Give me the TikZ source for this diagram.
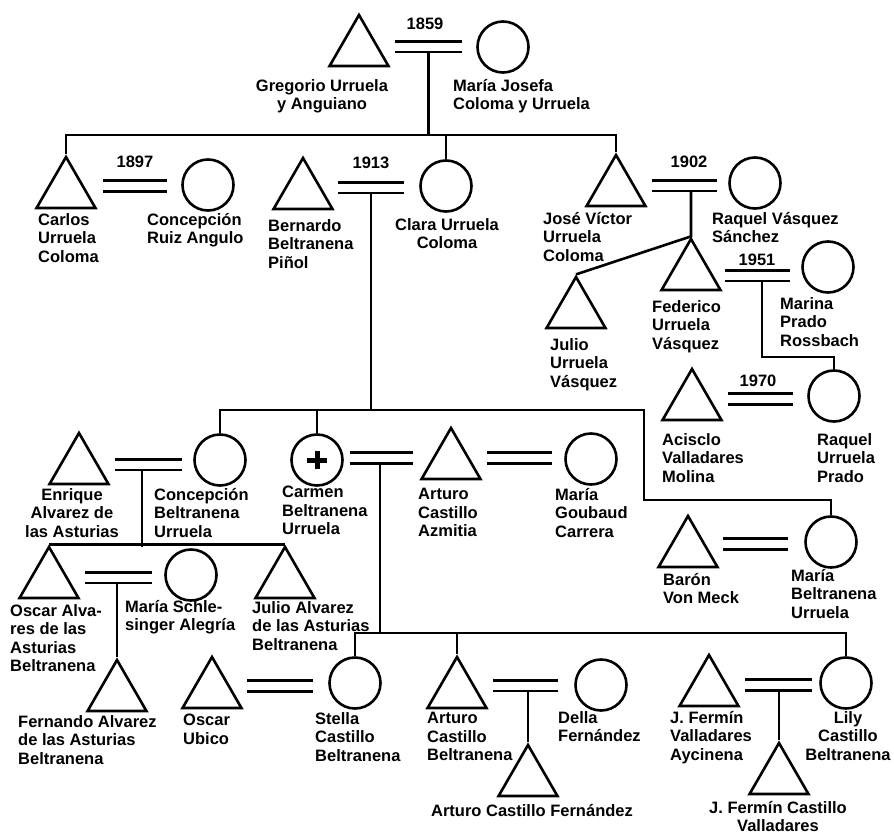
\documentclass[tikz,border=0pt]{standalone}
\usepackage{fontspec}
\setmainfont{Liberation Sans}
\usetikzlibrary{shapes.geometric}
\tikzset{
male/.style={regular polygon, regular polygon sides=3, draw, line width=2.6pt, minimum size=68pt, inner sep=0pt}, % a man
female/.style={circle, draw, line width=2.6pt, minimum size=51pt, inner sep=0pt}, % a woman
deceased/.style={female, path picture={\draw[line width=5pt]
  ([xshift=-10pt]path picture bounding box.center) -- ([xshift=10pt]path picture bounding box.center)
  ([yshift=-9pt]path picture bounding box.center) -- ([yshift=9pt]path picture bounding box.center);}}, % the cross inside
link/.style={line width=2.6pt}, % descent lines
wed/.style={double, double distance=8pt, line width=2.6pt}, % marriage, two lines
who/.style={anchor=north west, yshift=7pt, inner sep=0pt, align=left, execute at begin node=\strut, font=\bfseries\fontsize{16.5}{18.5}\selectfont}, % names
whoc/.style={who, anchor=north, align=center},
year/.style={inner sep=0pt, font=\bfseries\fontsize{16.5}{18.5}\selectfont},
}

\begin{document}
\begin{tikzpicture}[x=1pt, y=-1pt]
  \useasboundingbox (0,0) rectangle (894,835);

  % people
  \node[male] (gregorio) at (359,49) {};
  \node[female] (josefa) at (503,47) {};
  \node[male] (carlos) at (66,191) {};
  \node[female] (concepcionr) at (208,185) {};
  \node[male] (bernardo) at (303,192) {};
  \node[female] (clara) at (446,186) {};
  \node[male] (josevictor) at (616,189) {};
  \node[female] (raquelv) at (755,183) {};
  \node[male] (federico) at (691,273) {};
  \node[male] (julio) at (576,311) {};
  \node[female] (marina) at (828,267) {};
  \node[male] (acisclo) at (692,403) {};
  \node[female] (raquelu) at (834,396) {};
  \node[male] (enrique) at (79,467) {};
  \node[female] (concepcionb) at (220,460) {};
  \node[deceased] (carmen) at (317,460) {};
  \node[male] (arturoca) at (451,462) {};
  \node[female] (goubaud) at (591,459) {};
  \node[male] (baron) at (688,550) {};
  \node[female] (mariab) at (831,542) {};
  \node[male] (oscara) at (49,581) {};
  \node[female] (schlesinger) at (191,575) {};
  \node[male] (julioa) at (285,581) {};
  \node[male] (fernando) at (117,694) {};
  \node[male] (ubico) at (212,691) {};
  \node[female] (stella) at (355,683) {};
  \node[male] (arturocb) at (457,691) {};
  \node[female] (della) at (601,685) {};
  \node[male] (arturocf) at (528,779) {};
  \node[male] (fermin) at (709,689) {};
  \node[female] (lily) at (846,683) {};
  \node[male] (ferminc) at (779,777) {};

  % names
  \node[whoc] (gregorio-t) at (322,86) {Gregorio Urruela\\y Anguiano};
  \node[who] (josefa-t) at (453,86) {María Josefa\\Coloma y Urruela};
  \node[who] (carlos-t) at (38,220) {Carlos\\Urruela\\Coloma};
  \node[who] (concepcionr-t) at (147,220) {Concepción\\Ruiz Angulo};
  \node[who] (bernardo-t) at (268,226) {Bernardo\\Beltranena\\Piñol};
  \node[whoc] (clara-t) at (447,225) {Clara Urruela\\Coloma};
  \node[who] (josevictor-t) at (543,219) {José Víctor\\Urruela\\Coloma};
  \node[who] (raquelv-t) at (712,219) {Raquel Vásquez\\Sánchez};
  \node[who] (federico-t) at (652,307) {Federico\\Urruela\\Vásquez};
  \node[who] (julio-t) at (550,345) {Julio\\Urruela\\Vásquez};
  \node[who] (marina-t) at (780,304) {Marina\\Prado\\Rossbach};
  \node[who] (acisclo-t) at (662,440) {Acisclo\\Valladares\\Molina};
  \node[who] (raquelu-t) at (817,440) {Raquel\\Urruela\\Prado};
  \node[whoc] (enrique-t) at (72,495) {Enrique\\Alvarez de\\las Asturias};
  \node[who] (concepcionb-t) at (154,495) {Concepción\\Beltranena\\Urruela};
  \node[who] (carmen-t) at (282,493) {Carmen\\Beltranena\\Urruela};
  \node[who] (arturoca-t) at (418,495) {Arturo\\Castillo\\Azmitia};
  \node[who] (goubaud-t) at (555,495) {María\\Goubaud\\Carrera};
  \node[who] (baron-t) at (663,580) {Barón\\Von Meck};
  \node[who] (mariab-t) at (791,576) {María\\Beltranena\\Urruela};
  \node[who] (oscara-t) at (10,611) {Oscar Alva-\\res de las\\Asturias\\Beltranena};
  \node[who] (schlesinger-t) at (125,607) {María Schle-\\singer Alegría};
  \node[who] (julioa-t) at (252,608) {Julio Alvarez\\de las Asturias\\Beltranena};
  \node[who] (fernando-t) at (18,722) {Fernando Alvarez\\de las Asturias\\Beltranena};
  \node[who] (ubico-t) at (183,721) {Oscar\\Ubico};
  \node[who] (stella-t) at (315,719) {Stella\\Castillo\\Beltranena};
  \node[who] (arturocb-t) at (427,719) {Arturo\\Castillo\\Beltranena};
  \node[who] (della-t) at (558,718) {Della\\Fernández};
  \node[whoc] (arturocf-t) at (532,810) {Arturo Castillo Fernández};
  \node[who] (fermin-t) at (670,718) {J. Fermín\\Valladares\\Aycinena};
  \node[whoc] (lily-t) at (848,718) {Lily\\Castillo\\Beltranena};
  \node[whoc] (ferminc-t) at (778,808) {J. Fermín Castillo\\Valladares};

  % years
  \node[year] (y1859) at (425,24) {1859};
  \node[year] (y1897) at (135,162) {1897};
  \node[year] (y1913) at (371,163) {1913};
  \node[year] (y1902) at (689,162) {1902};
  \node[year] (y1951) at (757,260) {1951};
  \node[year] (y1970) at (758,381) {1970};

  % marriages and sibling bars
  \coordinate (w1859) at (428.5,46.5);
  \coordinate (w1897) at (135,186);
  \coordinate (w1913) at (371,187.5);
  \coordinate (w1902) at (684.5,185.5);
  \coordinate (w1951) at (757.5,275.5);
  \coordinate (w1970) at (760.5,399);
  \coordinate (wec) at (148.5,464.5);
  \coordinate (wca) at (381.5,458);
  \coordinate (wag) at (519.5,458);
  \coordinate (wbm) at (755.5,544);
  \coordinate (wos) at (118.5,577.5);
  \coordinate (wus) at (280,686);
  \coordinate (wad) at (525.5,685.5);
  \coordinate (wfl) at (778.5,685);
  \coordinate (kids1) at (428.5,135);
  \coordinate (kids2) at (371,410);
  \coordinate (turn) at (644,500);
  \coordinate (kids3) at (142,547);
  \coordinate (kids4) at (380,633);
  \coordinate (kids5) at (762,357);

  % descent
  \draw[link] (w1859) -- (kids1);
  \draw[link] (carlos.corner 1) |- (kids1) -| (josevictor.corner 1);
  \draw[link] (kids1) -| (clara.north);
  \draw[link] (w1913) -- (kids2);
  \draw[link] (concepcionb.north) |- (kids2) -| (turn) -| (mariab.north);
  \draw[link] (kids2) -| (carmen.north);
  \draw[link] (w1902 -| federico.corner 1) -- (federico.corner 1) -- (julio.corner 1);
  \draw[link] (w1951 -| kids5) -- (kids5) -| (raquelu.north);
  \draw[link] (wec -| kids3) -- (kids3);
  \draw[link] (oscara.corner 1) -- (julioa.corner 1);
  \draw[link] (wos -| fernando.corner 1) -- (fernando.corner 1);
  \draw[link] (wca -| kids4) -- (kids4);
  \draw[link] (stella.north) |- (kids4) -| (lily.north);
  \draw[link] (kids4) -| (arturocb.corner 1);
  \draw[link] (wad -| arturocf.corner 1) -- (arturocf.corner 1);
  \draw[link] (wfl -| ferminc.corner 1) -- (ferminc.corner 1);

  \draw[wed] (w1859) +(-33.5,0) -- +(33.5,0);
  \draw[wed] (w1897) +(-32,0) -- +(32,0);
  \draw[wed] (w1913) +(-33,0) -- +(33,0);
  \draw[wed] (w1902) +(-32.5,0) -- +(32.5,0);
  \draw[wed] (w1951) +(-32.5,0) -- +(32.5,0);
  \draw[wed] (w1970) +(-32.5,0) -- +(32.5,0);
  \draw[wed] (wec) +(-33.5,0) -- +(33.5,0);
  \draw[wed] (wca) +(-31.5,0) -- +(31.5,0);
  \draw[wed] (wag) +(-32.5,0) -- +(32.5,0);
  \draw[wed] (wbm) +(-32.5,0) -- +(32.5,0);
  \draw[wed] (wos) +(-33.5,0) -- +(33.5,0);
  \draw[wed] (wus) +(-33,0) -- +(33,0);
  \draw[wed] (wad) +(-32.5,0) -- +(32.5,0);
  \draw[wed] (wfl) +(-33.5,0) -- +(33.5,0);
\end{tikzpicture}
\end{document}
